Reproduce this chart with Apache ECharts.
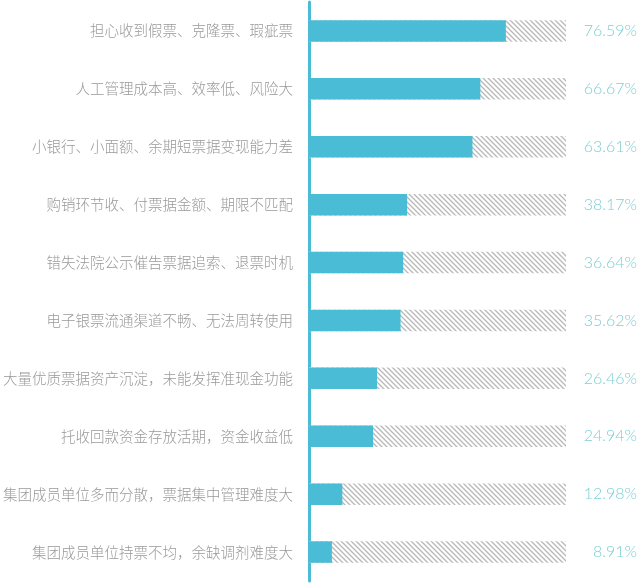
<!DOCTYPE html>
<html>
<head>
<meta charset="utf-8">
<script src="https://cdn.jsdelivr.net/npm/echarts@6/dist/echarts.min.js"></script>
<style>
html,body{margin:0;padding:0;background:#fff;}
#chart{width:640px;height:587px;}
</style>
</head>
<body>
<div id="chart"></div>
<script>
var categories = [
  '担心收到假票、克隆票、瑕疵票',
  '人工管理成本高、效率低、风险大',
  '小银行、小面额、余期短票据变现能力差',
  '购销环节收、付票据金额、期限不匹配',
  '错失法院公示催告票据追索、退票时机',
  '电子银票流通渠道不畅、无法周转使用',
  '大量优质票据资产沉淀，未能发挥准现金功能',
  '托收回款资金存放活期，资金收益低',
  '集团成员单位多而分散，票据集中管理难度大',
  '集团成员单位持票不均，余缺调剂难度大'
];
var values = [76.59, 66.67, 63.61, 38.17, 36.64, 35.62, 26.46, 24.94, 12.98, 8.91];
var percentLabels = values.map(function (v) { return v.toFixed(2) + '%'; });

var pc = document.createElement('canvas');
pc.width = 5; pc.height = 5;
var ctx = pc.getContext('2d');
ctx.fillStyle = '#ffffff';
ctx.fillRect(0, 0, 5, 5);
ctx.strokeStyle = '#b8b8b8';
ctx.lineWidth = 1.3;
ctx.beginPath();
ctx.moveTo(-1, -1); ctx.lineTo(6, 6);
ctx.moveTo(-1, 4); ctx.lineTo(1, 6);
ctx.moveTo(4, -1); ctx.lineTo(6, 1);
ctx.stroke();

var chart = echarts.init(document.getElementById('chart'));
chart.setOption({
  animation: false,
  grid: { left: 305, right: 74, top: 2, bottom: 6 },
  xAxis: { type: 'value', min: 0, max: 100, show: false },
  yAxis: [{
    type: 'category',
    inverse: true,
    data: categories,
    axisLine: { show: true, lineStyle: { color: '#4bbcd6', width: 3 } },
    axisTick: { show: false },
    axisLabel: { color: '#999999', fontSize: 14.5, margin: 16, fontFamily: 'Noto Sans CJK SC', fontWeight: 300 }
  }, {
    type: 'category',
    inverse: true,
    position: 'right',
    data: percentLabels,
    axisLine: { show: false },
    axisTick: { show: false },
    axisLabel: { color: '#7dcfd4', fontSize: 16, margin: 71, align: 'right', fontFamily: 'Lato', fontWeight: 300 }
  }],
  series: [{
    type: 'bar',
    data: values,
    barWidth: 21.5,
    itemStyle: { color: '#4bbcd6' },
    showBackground: true,
    backgroundStyle: { color: { image: pc, repeat: 'repeat' } }
  }]
});
</script>
</body>
</html>
